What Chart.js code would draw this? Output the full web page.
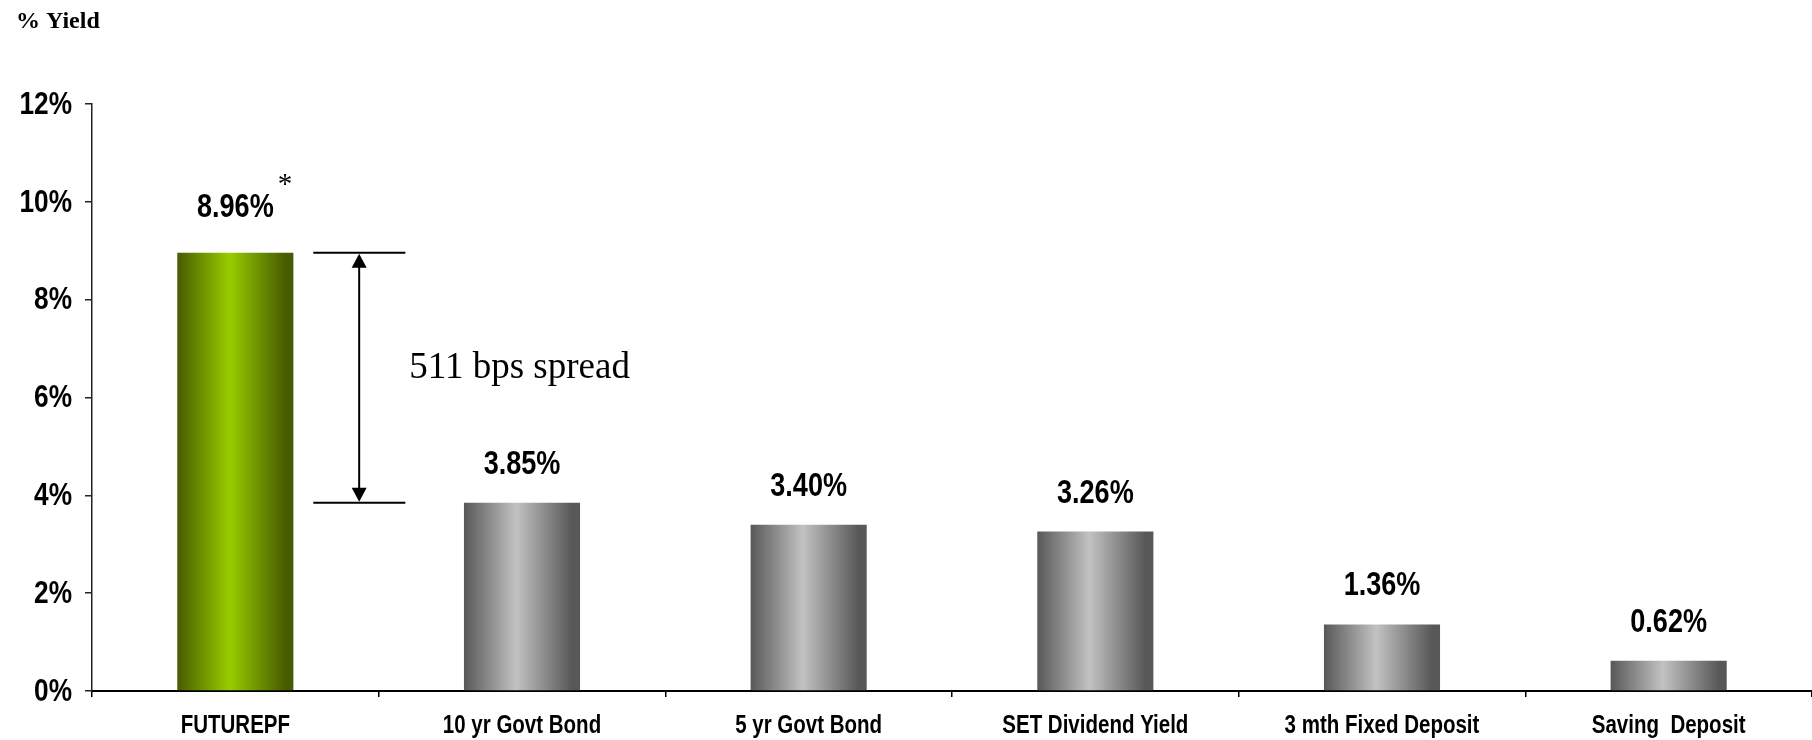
<!DOCTYPE html>
<html>
<head>
<meta charset="utf-8">
<script src="https://cdn.jsdelivr.net/npm/chart.js@4/dist/chart.umd.min.js"></script>
<style>
html,body{margin:0;padding:0;background:#fff;}
#wrap{width:1812px;height:740px;}
</style>
</head>
<body>
<div id="wrap"><canvas id="chart_yield" width="1812" height="740"></canvas></div>
<script>
const categories = ['FUTUREPF', '10 yr Govt Bond', '5 yr Govt Bond', 'SET Dividend Yield', '3 mth Fixed Deposit', 'Saving  Deposit'];
const yields = [8.96, 3.85, 3.40, 3.26, 1.36, 0.62];
const yTicks = [0, 2, 4, 6, 8, 10, 12];
const noteMarks = ['*', '', '', '', '', ''];

const SANS = '"Liberation Sans", Arial, sans-serif';
const SERIF = '"Liberation Serif", "Times New Roman", serif';
const BAR_PCT = 0.405;
const SQUEEZE = 0.82; // no narrow font installed, so squeeze the bold sans

// horizontal "cylinder" shading for each bar
function barFill(context) {
  const chart = context.chart;
  const i = context.dataIndex;
  const light = i === 0 ? '#99cc00' : '#c2c2c2';
  const dark = i === 0 ? '#475c00' : '#585858';
  const xs = chart.scales.x;
  if (!xs || !chart.chartArea) return light;
  const c = xs.getPixelForValue(i);
  const w = xs.width / categories.length * BAR_PCT;
  const g = chart.ctx.createLinearGradient(c - w / 2, 0, c + w / 2, 0);
  g.addColorStop(0, dark);
  g.addColorStop(0.45, light);
  g.addColorStop(0.93, dark);
  g.addColorStop(1, dark);
  return g;
}

function narrowText(ctx, txt, x, y) {
  ctx.save();
  ctx.translate(x, y);
  ctx.scale(SQUEEZE, 1);
  ctx.fillText(txt, 0, 0);
  ctx.restore();
}

const extras = {
  id: 'extras',
  afterDraw(chart) {
    const {ctx} = chart;
    const xs = chart.scales.x, ys = chart.scales.y;
    const meta = chart.getDatasetMeta(0);
    ctx.save();
    ctx.fillStyle = '#000';
    ctx.strokeStyle = '#000';

    // axis labels
    ctx.font = 'bold 32px ' + SANS;
    ctx.textAlign = 'right';
    ctx.textBaseline = 'middle';
    ys.ticks.forEach((t, i) => {
      narrowText(ctx, t.value + '%', ys.right - 20, ys.getPixelForTick(i) + 1);
    });
    ctx.font = 'bold 25px ' + SANS;
    ctx.textAlign = 'center';
    ctx.textBaseline = 'alphabetic';
    xs.ticks.forEach((t, i) => {
      narrowText(ctx, categories[i], xs.getPixelForTick(i), xs.top + 42);
    });

    // value labels
    meta.data.forEach((bar, i) => {
      const txt = yields[i].toFixed(2) + '%';
      const base = bar.y - (i === 0 ? 36 : 29);
      ctx.font = 'bold 33px ' + SANS;
      ctx.textAlign = 'center';
      narrowText(ctx, txt, bar.x, base);
      if (noteMarks[i]) {
        const w = ctx.measureText(txt).width * SQUEEZE;
        ctx.font = '29px ' + SERIF;
        ctx.textAlign = 'left';
        ctx.fillText(noteMarks[i], bar.x + w / 2 + 4, base - 24);
      }
    });

    // spread marker between first two bars
    const yTop = ys.getPixelForValue(yields[0]);
    const yBot = ys.getPixelForValue(yields[1]);
    const xl = xs.getPixelForValue(0.272), xr = xs.getPixelForValue(0.593);
    const xa = xs.getPixelForValue(0.432);
    ctx.lineWidth = 2;
    ctx.beginPath();
    ctx.moveTo(xl, yTop); ctx.lineTo(xr, yTop);
    ctx.moveTo(xl, yBot); ctx.lineTo(xr, yBot);
    ctx.moveTo(xa, yTop + 12); ctx.lineTo(xa, yBot - 12);
    ctx.stroke();
    const ah = 15, aw = 7.5;
    ctx.beginPath();
    ctx.moveTo(xa, yTop + 1); ctx.lineTo(xa - aw, yTop + ah); ctx.lineTo(xa + aw, yTop + ah); ctx.closePath();
    ctx.moveTo(xa, yBot - 1); ctx.lineTo(xa - aw, yBot - ah); ctx.lineTo(xa + aw, yBot - ah); ctx.closePath();
    ctx.fill();

    const bps = Math.round((yields[0] - yields[1]) * 100);
    ctx.font = '37px ' + SERIF;
    ctx.textAlign = 'left';
    ctx.fillText(bps + ' bps spread', xs.getPixelForValue(0.607), (yTop + yBot) / 2);

    // axis title
    ctx.font = 'bold 24px ' + SERIF;
    ctx.fillText('% Yield', 16, 28);
    ctx.restore();
  }
};

const chartYield = document.getElementById('chart_yield');
const myChart = new Chart(chartYield, {
  type: 'bar',
  data: {
    labels: categories,
    datasets: [{
      data: yields,
      backgroundColor: barFill,
      borderWidth: 0,
      barPercentage: BAR_PCT,
      categoryPercentage: 1
    }]
  },
  plugins: [extras],
  options: {
    responsive: false,
    animation: false,
    layout: {
      padding: {top: 104, left: 0, right: 0, bottom: 0}
    },
    plugins: {
      legend: {display: false},
      tooltip: {enabled: false}
    },
    scales: {
      x: {
        afterFit(s) { s.height = 49; },
        border: {display: true, color: '#000', width: 2},
        grid: {offset: true, drawOnChartArea: false, tickLength: 6, color: '#000', lineWidth: 1.5},
        ticks: {display: false, autoSkip: false}
      },
      y: {
        min: 0,
        max: 12,
        afterFit(s) { s.width = 92; },
        afterBuildTicks(s) { s.ticks = yTicks.map(v => ({value: v})); },
        border: {display: true, color: '#222', width: 1.5},
        grid: {drawOnChartArea: false, tickLength: 7, color: '#222', lineWidth: 1.5},
        ticks: {display: false}
      }
    }
  }
});
</script>
</body>
</html>
